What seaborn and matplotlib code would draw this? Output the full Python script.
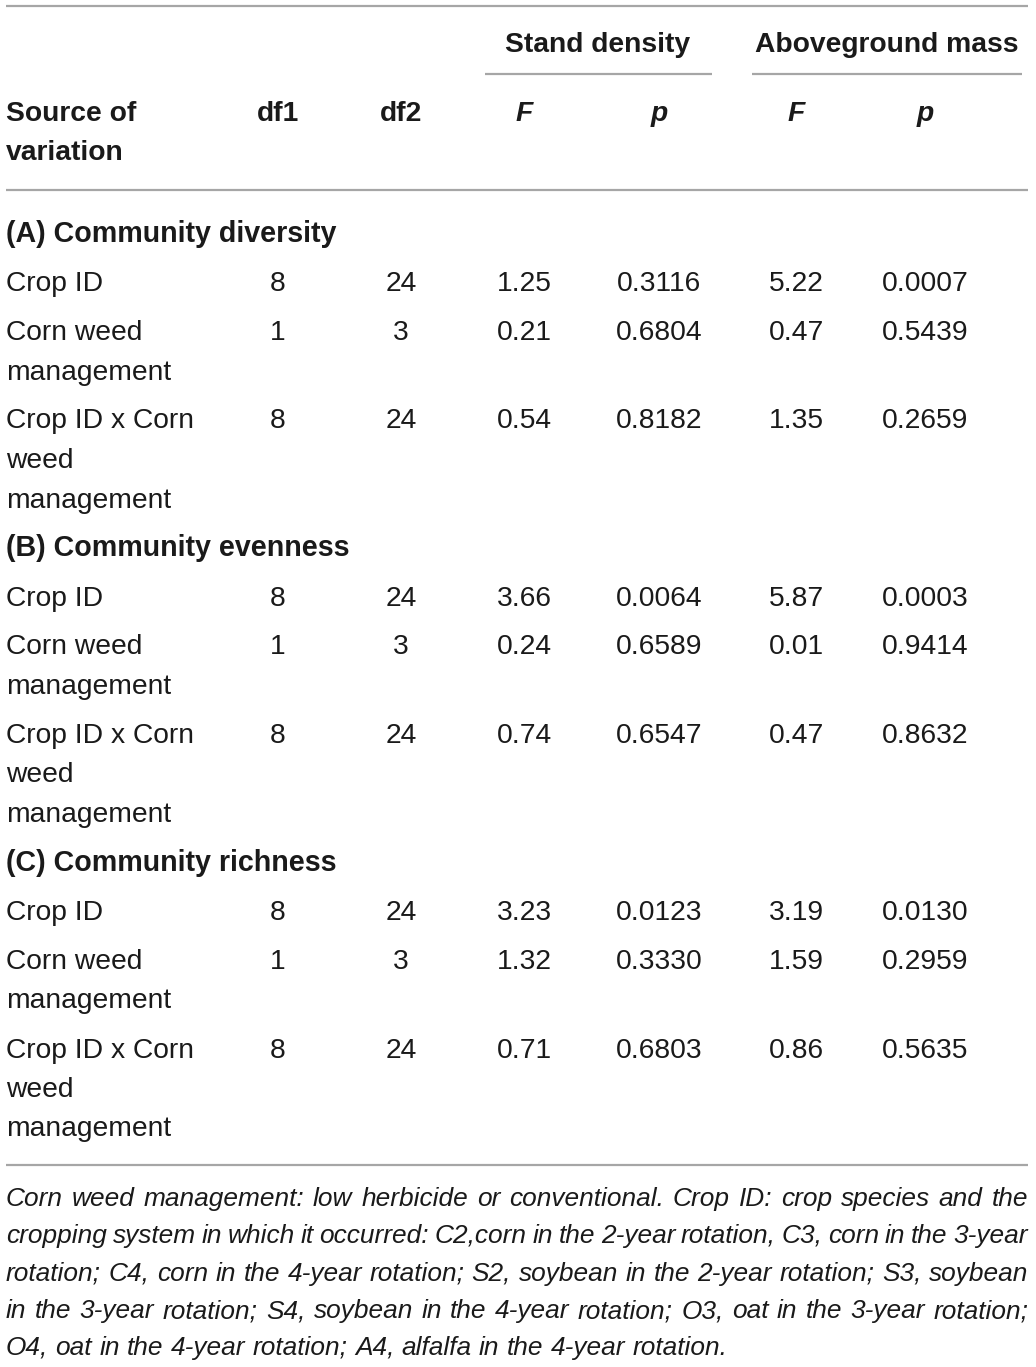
import matplotlib
matplotlib.use("Agg")
import matplotlib.pyplot as plt
import seaborn as sns
import pandas as pd

# table content
sections = ["(A) Community diversity", "(B) Community evenness", "(C) Community richness"]
sources = ["Crop ID", "Corn weed\nmanagement", "Crop ID x Corn\nweed\nmanagement"]
df1 = [8, 1, 8]
df2 = [24, 3, 24]
f_stand = [1.25, 0.21, 0.54, 3.66, 0.24, 0.74, 3.23, 1.32, 0.71]
p_stand = [0.3116, 0.6804, 0.8182, 0.0064, 0.6589, 0.6547, 0.0123, 0.3330, 0.6803]
f_mass = [5.22, 0.47, 1.35, 5.87, 0.01, 0.47, 3.19, 1.59, 0.86]
p_mass = [0.0007, 0.5439, 0.2659, 0.0003, 0.9414, 0.8632, 0.0130, 0.2959, 0.5635]
group_heads = ["Stand density", "Aboveground mass"]
col_heads = ["df1", "df2", "F", "p", "F", "p"]
footnote = [
    "Corn weed management: low herbicide or conventional. Crop ID: crop species and the",
    "cropping system in which it occurred: C2,corn in the 2-year rotation, C3, corn in the 3-year",
    "rotation; C4, corn in the 4-year rotation; S2, soybean in the 2-year rotation; S3, soybean",
    "in the 3-year rotation; S4, soybean in the 4-year rotation; O3, oat in the 3-year rotation;",
    "O4, oat in the 4-year rotation; A4, alfalfa in the 4-year rotation.",
]

rows = []
for i, sec in enumerate(sections):
    for j, src in enumerate(sources):
        k = i * 3 + j
        rows.append({"section": sec, "source": src, "df1": df1[j], "df2": df2[j],
                     "F_sd": f_stand[k], "p_sd": p_stand[k], "F_am": f_mass[k], "p_am": p_mass[k]})
table = pd.DataFrame(rows)

sns.set_theme(style="white")
plt.rcParams["font.family"] = ["Liberation Sans", "DejaVu Sans"]

W, H = 1036, 1367
fig = plt.figure(figsize=(W / 100, H / 100), dpi=100)
ax = fig.add_axes([0, 0, 1, 1])
ax.set_xlim(0, W)
ax.set_ylim(H, 0)
ax.axis("off")

txt = "#1a1a1a"
rule = "#a6a6a6"
fs = 20.3
cap = 10  # half cap height in px, used to go from centre to baseline
col_x = [278, 401, 524, 659, 796, 925]
left, right = 6, 1028


def put(x, yc, s, ha="left", size=fs, **kw):
    return ax.text(x, yc + cap, s, ha=ha, va="baseline", fontsize=size, color=txt, **kw)


def hline(x0, x1, y):
    ax.plot([x0, x1], [y, y], color=rule, lw=1.6, solid_capstyle="butt")


# header
hline(left, right, 6)
put(598, 42, group_heads[0], ha="center", fontweight="bold")
put(887, 42, group_heads[1], ha="center", fontweight="bold")
hline(485, 712, 74)
hline(752, 1022, 74)
put(left, 111, "Source of", fontweight="bold")
put(left, 150, "variation", fontweight="bold")
for x, h in zip(col_x, col_heads):
    style = "italic" if h in ("F", "p") else "normal"
    put(x, 111, h, ha="center", fontweight="bold", fontstyle=style)
hline(left, right, 190)

# body
line_h = 39.5
gap = 49
y = 232
for sec, grp in table.groupby("section", sort=False):
    put(left, y, sec, size=20.6, fontweight="bold")
    for _, r in grp.iterrows():
        y += gap
        vals = [str(r["df1"]), str(r["df2"]), f"{r['F_sd']:.2f}", f"{r['p_sd']:.4f}",
                f"{r['F_am']:.2f}", f"{r['p_am']:.4f}"]
        for x, v in zip(col_x, vals):
            put(x, y, v, ha="center")
        parts = r["source"].split("\n")
        for n, part in enumerate(parts):
            put(left, y + n * line_h, part)
        y += (len(parts) - 1) * line_h
    y += gap
hline(left, right, 1165)

# footnote, justified like the journal layout (last line left aligned)
fn_size = 18.9
renderer = fig.canvas.get_renderer()
for n, line in enumerate(footnote):
    yb = round(1197 + n * 37.3 + 9)
    words = line.split(" ")
    items = [ax.text(0, yb, w, ha="left", va="baseline", fontsize=fn_size,
                     family="Liberation Sans", fontstyle="italic", color=txt)
             for w in words]
    widths = [t.get_window_extent(renderer).width for t in items]
    if n == len(footnote) - 1:
        space = fn_size * 0.278 * 100 / 72
    else:
        space = (right - left - sum(widths)) / (len(words) - 1)
    x = left
    for t, w in zip(items, widths):
        t.set_x(x)
        x += w + space

fig.savefig("out.png", dpi=100)
